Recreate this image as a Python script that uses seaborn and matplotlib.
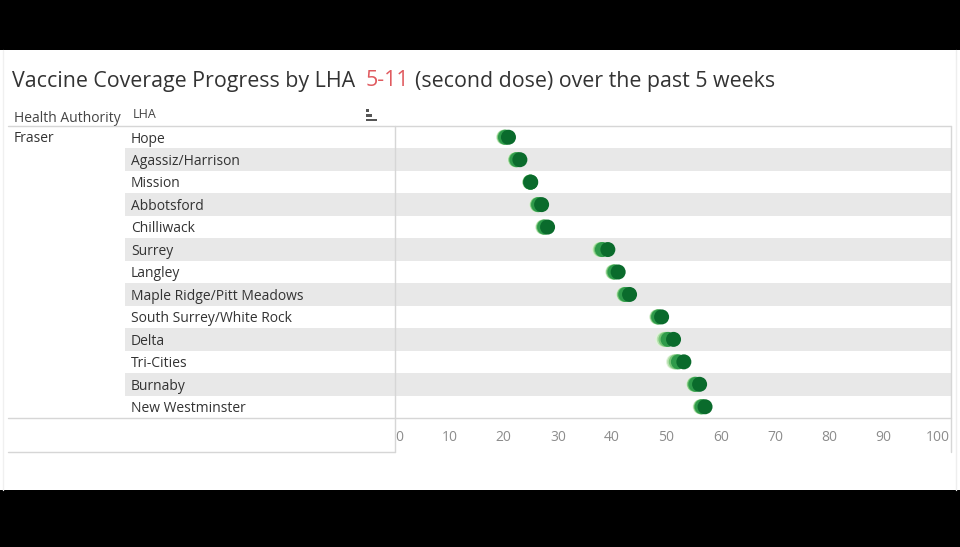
import matplotlib
matplotlib.use("Agg")
import matplotlib.pyplot as plt
import matplotlib.transforms as mtransforms
from matplotlib.patches import Rectangle
from matplotlib.lines import Line2D
import seaborn as sns
import pandas as pd

# ---------------- data ----------------
lhas = ["Hope", "Agassiz/Harrison", "Mission", "Abbotsford", "Chilliwack", "Surrey",
        "Langley", "Maple Ridge/Pitt Meadows", "South Surrey/White Rock", "Delta",
        "Tri-Cities", "Burnaby", "New Westminster"]
weeks = ["Week 1", "Week 2", "Week 3", "Week 4", "Week 5"]
week1 = [20.0, 22.1, 24.8, 26.1, 27.2, 37.6, 40.1, 42.1, 48.2, 49.3, 51.3, 55.0, 56.2]
week2 = [20.1, 22.2, 24.85, 26.2, 27.3, 37.8, 40.2, 42.2, 48.3, 49.6, 51.5, 55.1, 56.3]
week3 = [20.2, 22.3, 24.9, 26.3, 27.4, 38.0, 40.3, 42.3, 48.4, 49.9, 51.8, 55.2, 56.4]
week4 = [20.35, 22.45, 24.95, 26.45, 27.55, 38.2, 40.5, 42.5, 48.55, 50.3, 52.2, 55.4, 56.55]
week5 = [20.9, 23.0, 25.0, 27.0, 28.1, 39.2, 41.1, 43.2, 49.1, 51.3, 53.2, 56.1, 57.1]
x_ticks = [0, 10, 20, 30, 40, 50, 60, 70, 80, 90, 100]
authority = "Fraser"
week_colors = ["#e2f3de", "#b6e1ae", "#74c476", "#2e9a4a", "#0a6b2c"]

rows = []
for i, lha in enumerate(lhas):
    for w, vals in zip(weeks, [week1, week2, week3, week4, week5]):
        rows.append({"LHA": lha, "week": w, "value": vals[i]})
df = pd.DataFrame(rows)

# ---------------- figure ----------------
sns.set_style("white")
plt.rcParams["font.family"] = ["Open Sans", "DejaVu Sans"]

W, H = 960, 547
fig = plt.figure(figsize=(9.6, 5.47), dpi=100, facecolor="black")

def fx(x):
    return x / W

def fy(y):
    return 1 - y / H

# white panel (behind everything)
fig.patches.append(Rectangle((0, fy(490)), 1, fy(50) - fy(490), transform=fig.transFigure,
                             facecolor="white", edgecolor="none", zorder=-10))

ax = fig.add_axes([fx(395), fy(418), fx(951) - fx(395), fy(126) - fy(418)])
ax.set_zorder(1)
ax.patch.set_alpha(0)

sns.stripplot(data=df, x="value", y="LHA", hue="week", order=lhas, hue_order=weeks,
              palette=week_colors, jitter=False, dodge=False, size=10.8, linewidth=0,
              legend=False, ax=ax, zorder=3)

ax.set_xlim(0, 102.4)
ax.set_ylim(len(lhas) - 0.5, -0.5)
for s in ax.spines.values():
    s.set_visible(False)
ax.set_xlabel("")
ax.set_ylabel("")
ax.set_xticks(x_ticks)
ax.set_xticklabels([str(t) for t in x_ticks])
ax.tick_params(axis="x", length=0, pad=8.5, labelsize=10, labelcolor="#8c8c8c")
ax.tick_params(axis="y", left=False, labelleft=False)
ax.get_xticklabels()[0].set_horizontalalignment("left")
ax.grid(False)

blend = mtransforms.blended_transform_factory(fig.transFigure, ax.transData)

# alternating row bands + labels
for i, lha in enumerate(lhas):
    if i % 2 == 1:
        ax.add_patch(Rectangle((fx(125), i - 0.5), fx(951) - fx(125), 1.0, transform=blend,
                               facecolor="#e8e8e8", edgecolor="none", clip_on=False, zorder=0))
    ax.text(fx(131), i + 0.08, lha, transform=blend, ha="left", va="center", fontsize=10,
            color="#333333", clip_on=False)

# grid lines of the table
line_c = "#d6d6d6"
def hline(y, x0, x1, c=line_c, lw=1.0):
    fig.add_artist(Line2D([fx(x0), fx(x1)], [fy(y), fy(y)], transform=fig.transFigure,
                          color=c, lw=lw, zorder=5))

def vline(x, y0, y1, c=line_c, lw=1.0):
    fig.add_artist(Line2D([fx(x), fx(x)], [fy(y0), fy(y1)], transform=fig.transFigure,
                          color=c, lw=lw, zorder=5))

hline(126, 8, 951)
hline(418, 8, 951)
hline(452, 8, 395)
vline(395, 126, 452)
vline(951, 126, 452)
vline(956, 50, 490, c="#eeeeee")
vline(3, 50, 490, c="#f0f0f0")

# header texts
fig.text(fx(14), fy(118.5), "Health Authority", ha="left", va="center", fontsize=10, color="#444444")
fig.text(fx(133), fy(114), "LHA", ha="left", va="center", fontsize=9, color="#444444")
fig.text(fx(14), fy(138.5), authority, ha="left", va="center", fontsize=10, color="#333333")

# sort icon
for (x0, x1, yc) in [(366, 369, 110.5), (366, 372, 115.5), (366, 377, 120)]:
    fig.patches.append(Rectangle((fx(x0), fy(yc + 1)), fx(x1) - fx(x0), fy(yc - 1) - fy(yc + 1),
                                 transform=fig.transFigure, facecolor="#555555",
                                 edgecolor="none", zorder=5))

# title in three pieces
renderer = fig.canvas.get_renderer()
title_y = fy(86.5)
t1 = fig.text(fx(12), title_y, "Vaccine Coverage Progress by LHA", ha="left", va="baseline",
              fontsize=15.4, color="#333333")
bb = t1.get_window_extent(renderer=renderer)
x_next = bb.x1 / W + fx(10)
t2 = fig.text(x_next, title_y, "5-11", ha="left", va="baseline", fontsize=15.4, color="#e05a5f")
bb = t2.get_window_extent(renderer=renderer)
x_next = bb.x1 / W + fx(6)
fig.text(x_next, title_y, "(second dose) over the past 5 weeks", ha="left", va="baseline",
         fontsize=15.4, color="#333333")

fig.savefig("out.png", dpi=100, facecolor=fig.get_facecolor())
